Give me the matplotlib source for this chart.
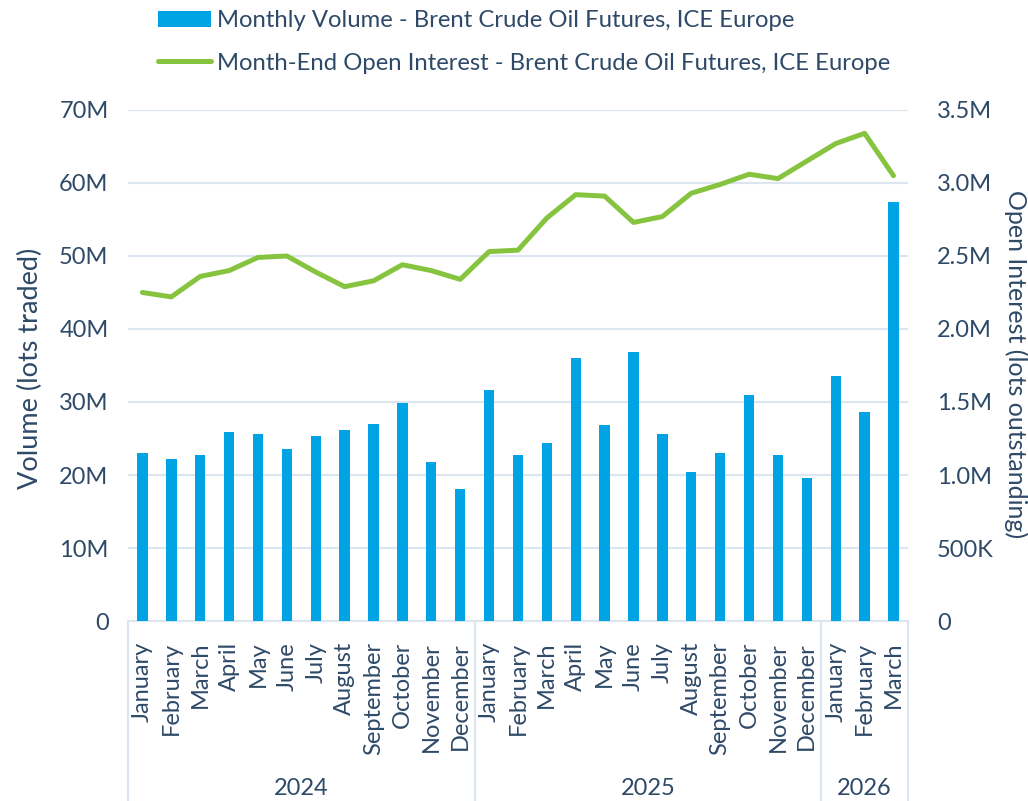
import matplotlib.pyplot as plt
import matplotlib.transforms as mtransforms
from matplotlib.ticker import FuncFormatter

months = ["January", "February", "March", "April", "May", "June", "July",
          "August", "September", "October", "November", "December"]
labels = months + months + months[:3]
years = ["2024", "2025", "2026"]
year_counts = [12, 12, 3]

# Monthly volume (lots traded)
volume = [23.0, 22.2, 22.7, 25.9, 25.6, 23.6, 25.3, 26.2, 27.0, 29.9, 21.8, 18.1,
          31.6, 22.7, 24.4, 36.0, 26.8, 36.8, 25.6, 20.4, 23.0, 31.0, 22.7, 19.6,
          33.6, 28.6, 57.4]
volume = [v * 1e6 for v in volume]

# Month-end open interest (lots outstanding)
open_interest = [2.25, 2.22, 2.36, 2.40, 2.49, 2.50, 2.39, 2.29, 2.33, 2.44, 2.40, 2.34,
                 2.53, 2.54, 2.76, 2.92, 2.91, 2.73, 2.77, 2.93, 2.99, 3.06, 3.03, 3.15,
                 3.27, 3.34, 3.05]
open_interest = [v * 1e6 for v in open_interest]

txt = "#2E4A68"
blue = "#00A3E4"
green = "#86C440"
grid = "#DCE6F0"

plt.rcParams['font.family'] = ['Lato', 'DejaVu Sans']

fig = plt.figure(figsize=(10.28, 8.01), dpi=100)
ax = fig.add_axes([0.1245, 0.2247, 0.7587, 0.638])
ax2 = ax.twinx()

x = list(range(len(labels)))
bars = ax.bar(x, volume, width=0.36, color=blue, zorder=3,
              label="Monthly Volume - Brent Crude Oil Futures, ICE Europe")
line, = ax2.plot(x, open_interest, color=green, lw=3.6, solid_capstyle="round",
                 solid_joinstyle="round", zorder=4,
                 label="Month-End Open Interest - Brent Crude Oil Futures, ICE Europe")

ax.set_xlim(-0.5, len(labels) - 0.5)
ax.set_ylim(0, 70e6)
ax2.set_ylim(0, 3.5e6)
ax.set_yticks([i * 10e6 for i in range(8)])
ax2.set_yticks([i * 0.5e6 for i in range(8)])

ax.yaxis.set_major_formatter(FuncFormatter(lambda v, p: "0" if v == 0 else f"{v/1e6:.0f}M"))
def oi_fmt(v, p):
    if v == 0:
        return "0"
    if v < 1e6:
        return f"{v/1e3:.0f}K"
    return f"{v/1e6:.1f}M"
ax2.yaxis.set_major_formatter(FuncFormatter(oi_fmt))

ax.grid(axis="y", color=grid, lw=1.5, zorder=0)
ax.set_axisbelow(True)
for a in (ax, ax2):
    for s in a.spines.values():
        s.set_visible(False)
    a.tick_params(length=0, labelsize=17, colors=txt)
ax.tick_params(axis="y", pad=14)
ax2.tick_params(axis="y", pad=21)

ax.set_xticks(x)
ax.set_xticklabels(labels, rotation=90, fontsize=17, color=txt, va="top", ha="center")
ax.tick_params(axis="x", pad=15)

fig.text(30 / 1028, 1 - 368 / 801, "Volume (lots traded)", rotation=90, fontsize=19.5,
         color=txt, ha="center", va="center")
fig.text(1016 / 1028, 1 - 364 / 801, "Open Interest (lots outstanding)", rotation=-90,
         fontsize=18, color=txt, ha="center", va="center")

# category frame beneath the x axis
tr = mtransforms.blended_transform_factory(ax.transData, ax.transAxes)
bottom = -0.36
ax.plot([-0.5, len(labels) - 0.5], [0, 0], transform=tr, color=grid, lw=1.5,
        clip_on=False, zorder=2)
start = -0.5
for yr, n in zip(years, year_counts):
    end = start + n
    for xe in (start, end):
        ax.plot([xe, xe], [0, bottom], transform=tr, color=grid, lw=1.5, clip_on=False)
    ax.text((start + end) / 2, -0.328, yr, transform=tr, ha="center", va="center",
            fontsize=17, color=txt)
    start = end

leg = fig.legend(handles=[bars, line], loc="upper left", bbox_to_anchor=(0.133, 1.014),
                 frameon=False, fontsize=17.2, labelcolor=txt, handlelength=2.2,
                 handletextpad=0.25, labelspacing=0.9)

fig.savefig("out.png", dpi=100)
